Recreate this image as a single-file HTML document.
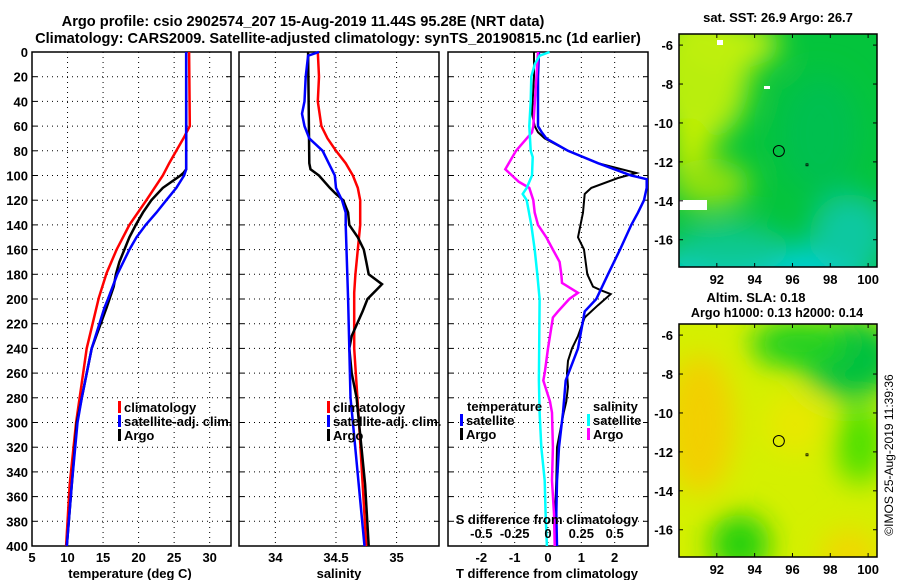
<!DOCTYPE html>
<html><head><meta charset="utf-8"><style>
html,body{margin:0;padding:0;background:#fff;}
svg{display:block;font-family:"Liberation Sans",sans-serif;font-weight:bold;}
</style></head><body>
<svg id="c" width="900" height="580" viewBox="0 0 900 580"></svg>
<script>
// ---------- data ----------
const tClimDepth=[0,60,70,80,90,100,120,140,160,179,199,240,300,350,400];
const tClimVal=[27.1,27.2,26.3,25.3,24.3,23.4,21.1,18.7,16.9,15.5,14.4,12.7,11.2,10.3,9.8];
const tSatDepth=[0,95,100,110,120,130,140,150,160,180,200,207,240,280,300,350,400];
const tSatVal=[26.7,26.7,26.4,25.3,23.9,22.5,21.0,19.7,18.7,17.0,15.7,15.2,13.4,12.0,11.4,10.6,9.9];
const tArgoDepth=[0,95,98,100,110,120,130,140,150,160,170,180,190,200,207,240,300,400];
const tArgoVal=[26.7,26.7,26.3,25.9,23.4,21.8,20.6,19.6,18.7,18.0,17.3,16.8,16.5,15.9,15.5,13.4,11.3,9.9];

const sClimDepth=[0,20,40,60,70,80,90,100,110,120,140,160,180,195,240,300,400];
const sClimVal=[34.35,34.36,34.35,34.38,34.43,34.50,34.58,34.64,34.68,34.70,34.70,34.68,34.66,34.65,34.65,34.69,34.75];
const sSatDepth=[0,3,20,40,50,60,70,80,90,100,110,120,130,140,200,280,300,400];
const sSatVal=[34.36,34.27,34.25,34.24,34.22,34.24,34.28,34.39,34.44,34.49,34.50,34.55,34.58,34.58,34.60,34.62,34.64,34.735];
const sArgoDepth=[0,90,95,100,110,115,120,130,140,150,160,170,180,188,193,200,210,230,240,260,280,300,350,400];
const sArgoVal=[34.27,34.28,34.29,34.36,34.45,34.50,34.56,34.60,34.61,34.68,34.73,34.75,34.77,34.88,34.83,34.76,34.72,34.63,34.61,34.63,34.67,34.69,34.74,34.77];

const dTSatDepth=[0,20,40,60,65,70,80,90,100,103,110,120,130,140,160,180,200,210,240,266,292,320,347,374,400];
const dTSatVal=[-0.27,-0.3,-0.3,-0.3,-0.19,-0.05,0.60,1.50,2.5,2.96,2.96,2.88,2.7,2.5,2.16,1.8,1.45,1.1,0.9,0.53,0.45,0.33,0.27,0.25,0.27];
const dTArgoDepth=[0,20,50,60,65,70,80,90,98,102,110,115,130,150,160,180,190,193,196,205,215,230,240,250,260,271,283,292,320,347,382,400];
const dTArgoVal=[-0.42,-0.42,-0.48,-0.4,-0.3,-0.1,0.6,1.5,2.65,2.1,1.3,1.1,1.05,0.9,1.08,1.18,1.35,1.6,1.88,1.5,1.1,0.9,0.72,0.6,0.57,0.6,0.55,0.47,0.27,0.25,0.2,0.27];
const dSSatDepth=[0,3,10,20,40,60,80,85,100,110,115,120,140,160,180,200,266,292,320,347,374,400];
const dSSatVal=[0.012,-0.063,-0.1,-0.125,-0.13,-0.14,-0.13,-0.115,-0.12,-0.16,-0.19,-0.16,-0.125,-0.1,-0.08,-0.063,-0.068,-0.063,-0.05,-0.025,-0.018,-0.008];
const dSArgoDepth=[0,60,65,70,80,95,100,105,110,120,130,140,150,160,170,180,187,195,200,210,215,240,260,266,283,292,320,347,374,400];
const dSArgoVal=[-0.075,-0.11,-0.12,-0.16,-0.24,-0.32,-0.27,-0.22,-0.14,-0.11,-0.1,-0.075,-0.013,0.037,0.087,0.1,0.105,0.225,0.16,0.075,0.037,0.0,-0.025,-0.035,0.015,0.03,0.037,0.03,0.045,0.05];

const depthTicks=[0,20,40,60,80,100,120,140,160,180,200,220,240,260,280,300,320,340,360,380,400];
const tTicks=[5,10,15,20,25,30];
const sTicks=[34,34.5,35];
const dTTicks=[-2,-1,0,1,2];
const dSTicks=[-0.5,-0.25,0,0.25,0.5];
const dSTickLabels=["-0.5","-0.25","0","0.25","0.5"];
const lonTicks=[92,94,96,98,100];
const latTicks=[-6,-8,-10,-12,-14,-16];
const argoLon=95.28, argoLat=-11.44;

// ---------- helpers ----------
const NS="http://www.w3.org/2000/svg";
const svg=document.getElementById('c');
function el(tag,attrs,parent){const e=document.createElementNS(NS,tag);for(const k in attrs)e.setAttribute(k,attrs[k]);(parent||svg).appendChild(e);return e;}
function txt(x,y,s,size,anchor,fill,parent){const t=el('text',{x:x,y:y,'font-size':size,'text-anchor':anchor||'middle',fill:fill||'#000'},parent);t.textContent=s;return t;}
const TOP=52,BOT=546;
function yD(d){return TOP+(d/400)*(BOT-TOP);}
function lin(d0,d1,r0,r1){return v=>r0+(v-d0)/(d1-d0)*(r1-r0);}

const panels=[
 {name:'temperature-panel',x0:32,x1:231,sx:lin(5,33,32,231)},
 {name:'salinity-panel',x0:239,x1:439,sx:lin(33.7,35.35,239,439)},
 {name:'difference-panel',x0:448,x1:648,sx:lin(-3,3,448,648)}
];
const sxS=lin(-0.75,0.75,448,648);

panels.forEach((p,i)=>{
  const g=el('g',{});
  
  
  depthTicks.forEach(d=>{ if(d>0&&d<400) el('line',{x1:p.x0,x2:p.x1,y1:yD(d),y2:yD(d),stroke:'#000','stroke-width':1,'stroke-dasharray':'1 4'},g);
    el('line',{x1:p.x0,x2:p.x0+5,y1:yD(d),y2:yD(d),stroke:'#000','stroke-width':1},g);
    el('line',{x1:p.x1-5,x2:p.x1,y1:yD(d),y2:yD(d),stroke:'#000','stroke-width':1},g);
  });
  const vt = i===0?tTicks: i===1?sTicks: dTTicks;
  vt.forEach(v=>{const x=p.sx(v); if(x>p.x0+1&&x<p.x1-1) el('line',{x1:x,x2:x,y1:TOP,y2:BOT,stroke:'#000','stroke-width':1,'stroke-dasharray':'1 4'},g);
    const t=txt(x,562,String(v),13,'middle','#000',g);
    });
  el('rect',{x:p.x0,y:TOP,width:p.x1-p.x0,height:BOT-TOP,fill:'none',stroke:'#000','stroke-width':1.5},g);
});
depthTicks.forEach(d=>{const t=txt(28,yD(d)+5,String(d),13,'end');
  
  });

function line(xs,ds,sx,color,name,w){
  const pts=xs.map((v,k)=>sx(v).toFixed(1)+','+yD(ds[k]).toFixed(1)).join(' ');
  const l=el('polyline',{points:pts,fill:'none',stroke:color,'stroke-width':w||2.5,'stroke-linejoin':'miter'});
  
  
}
const P=panels;
line(tClimVal,tClimDepth,P[0].sx,'#f00','temp-climatology-line');
line(tArgoVal,tArgoDepth,P[0].sx,'#000','temp-argo-line');
line(tSatVal,tSatDepth,P[0].sx,'#00f','temp-satellite-line');
line(sClimVal,sClimDepth,P[1].sx,'#f00','sal-climatology-line');
line(sArgoVal,sArgoDepth,P[1].sx,'#000','sal-argo-line');
line(sSatVal,sSatDepth,P[1].sx,'#00f','sal-satellite-line');
line(dTArgoVal,dTArgoDepth,P[2].sx,'#000','tdiff-argo-line',2);
line(dTSatVal,dTSatDepth,P[2].sx,'#00f','tdiff-satellite-line');
line(dSArgoVal,dSArgoDepth,sxS,'#f0f','sdiff-argo-line');
line(dSSatVal,dSSatDepth,sxS,'#0ff','sdiff-satellite-line');

function legItem(x,y,color,label,name){
  const g=el('g',{});
  
  
  if(color) el('rect',{x:x,y:y-11,width:3,height:12,fill:color},g);
  txt(x+(color?6:0),y,label,13,'start','#000',g);
}
legItem(118,412,'#f00','climatology','legend-climatology');
legItem(118,426,'#00f','satellite-adj. clim.','legend-satellite-adj');
legItem(118,440,'#000','Argo','legend-argo');
legItem(327,412,'#f00','climatology','legend-climatology-sal');
legItem(327,426,'#00f','satellite-adj. clim.','legend-satellite-adj-sal');
legItem(327,440,'#000','Argo','legend-argo-sal');
legItem(467,411,null,'temperature','legend-temperature-header');
legItem(460,425,'#00f','satellite','legend-t-satellite');
legItem(460,439,'#000','Argo','legend-t-argo');
legItem(593,411,null,'salinity','legend-salinity-header');
legItem(587,425,'#0ff','satellite','legend-s-satellite');
legItem(587,439,'#f0f','Argo','legend-s-argo');
let st=txt(547,524,'S difference from climatology',13);

dSTicks.forEach((v,k)=>{const t=txt(sxS(v),538,dSTickLabels[k],13);
  });

[[130,'temperature (deg C)','x-axis-title-temperature'],[339,'salinity','x-axis-title-salinity'],[547,'T difference from climatology','x-axis-title-tdiff']].forEach(a=>{
  const t=txt(a[0],578,a[1],13);});
let t1=txt(303,26,'Argo profile: csio 2902574_207 15-Aug-2019 11.44S 95.28E (NRT data)',14.6);

let t2=txt(338,43,'Climatology: CARS2009. Satellite-adjusted climatology: synTS_20190815.nc (1d earlier)',14.6);


// ---------- maps ----------
const defs=el('defs',{});
el('filter',{id:'b1',x:'-50%',y:'-50%',width:'200%',height:'200%'},defs).appendChild((()=>{const f=document.createElementNS(NS,'feGaussianBlur');f.setAttribute('stdDeviation','14');return f;})());
function map(y0,name,blobs,base){
  const X0=679,X1=877,Y1=y0+233;
  const g=el('g',{});
  
  
  const cp=el('clipPath',{id:'cp'+y0},defs);
  el('rect',{x:X0,y:y0,width:X1-X0,height:233},cp);
  const inner=el('g',{'clip-path':'url(#cp'+y0+')'},g);
  el('rect',{x:X0,y:y0,width:X1-X0,height:233,fill:base},inner);
  const bg=el('g',{filter:'url(#b1)'},inner);
  blobs.forEach(b=>el('ellipse',{cx:b[0],cy:y0+b[1],rx:b[2],ry:b[3],fill:b[4]},bg));
  const lx=lin(90,100.47,X0,X1), ly=lin(-5.43,-17.4,y0,Y1);
  el('rect',{x:X0,y:y0,width:X1-X0,height:233,fill:'none',stroke:'#000','stroke-width':1.5},g);
  lonTicks.forEach(v=>{const x=lx(v);el('line',{x1:x,x2:x,y1:y0,y2:y0+4,stroke:'#000'},g);el('line',{x1:x,x2:x,y1:Y1-4,y2:Y1,stroke:'#000'},g);
    txt(x,Y1+17,String(v),13,'middle','#000',g);});
  latTicks.forEach(v=>{const y=ly(v);el('line',{x1:X0,x2:X0+4,y1:y,y2:y,stroke:'#000'},g);el('line',{x1:X1-4,x2:X1,y1:y,y2:y,stroke:'#000'},g);
    txt(673,y+5,String(v),13,'end','#000',g);});
  const c=el('circle',{cx:lx(argoLon),cy:ly(argoLat),r:5.5,fill:'none',stroke:'#000','stroke-width':1},g);
  
  
  el('rect',{x:806,y:ly(-12.15)-1,width:2,height:2,fill:'none',stroke:'#000','stroke-width':0.8},g);
  return inner;
}
const sst=map(34,'sst-map',[
 [700,40,50,70,'#b8ee10'],[690,120,20,40,'#c8f000'],[730,10,50,25,'#c0f010'],[710,150,40,25,'#90e010'],
 [760,240,110,30,'#00d0d0'],[730,215,60,25,'#10c890'],[850,200,40,40,'#10c8a0'],[820,100,40,60,'#00c050']
],'#04c43c');
el('rect',{x:679,y:200,width:28,height:10,fill:'#fff'},sst);
el('rect',{x:764,y:86,width:6,height:3,fill:'#fff'},sst);
el('rect',{x:717,y:40,width:6,height:5,fill:'#fff'},sst);
const sla=map(324,'sla-map',[
 [700,100,35,70,'#f2d000'],[850,35,50,40,'#00c040'],[800,20,50,25,'#20d020'],[860,120,25,40,'#50e000'],
 [850,230,30,25,'#f0d800'],[740,220,30,30,'#20d010'],[795,100,30,30,'#e8e800']
],'#d4f000');

let m1=txt(778,22,'sat. SST: 26.9 Argo: 26.7',13);
let m2=txt(756,302,'Altim. SLA: 0.18',13);
let m3=txt(777,317,'Argo h1000: 0.13 h2000: 0.14',12.6);
let cr=el('text',{x:0,y:0,'font-size':12,'font-weight':'normal','text-anchor':'middle',transform:'translate(893,455) rotate(-90)'});
cr.textContent='©IMOS 25-Aug-2019 11:39:36';


</script>
</body></html>
